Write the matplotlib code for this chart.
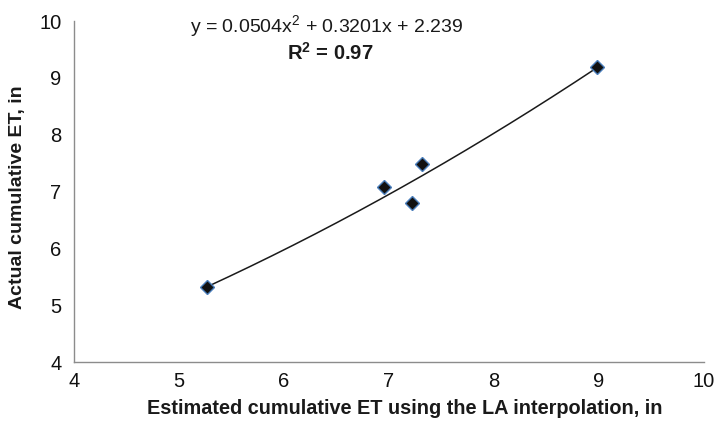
import numpy as np
import matplotlib
matplotlib.use("Agg")
import matplotlib.pyplot as plt
from matplotlib import font_manager

plt.rcParams['font.family'] = ['Liberation Sans', 'DejaVu Sans']
plt.rcParams['mathtext.fontset'] = 'custom'
plt.rcParams['mathtext.rm'] = 'Liberation Sans'
plt.rcParams['mathtext.it'] = 'Liberation Sans'
plt.rcParams['mathtext.bf'] = 'Liberation Sans:bold'

names = {f.name for f in font_manager.fontManager.ttflist}
label_family = ['Liberation Sans Narrow'] if 'Liberation Sans Narrow' in names else ['Liberation Sans']
narrow = 'Liberation Sans Narrow' in names

x_est = [5.27, 6.95, 7.22, 7.31, 8.98]
y_act = [5.32, 7.08, 6.80, 7.48, 9.19]
coef = [0.0504, 0.3201, 2.239]
x_ticks = [4, 5, 6, 7, 8, 9, 10]
y_ticks = [4, 5, 6, 7, 8, 9, 10]

W, H = 718, 422
fig = plt.figure(figsize=(W / 100, H / 100), dpi=100)
ax = fig.add_axes([74 / W, 1 - 362 / H, 630 / W, 341 / H])

xf = np.linspace(min(x_est), max(x_est), 200)
yf = np.polyval(coef, xf)
ax.plot(xf, yf, color='#1a1a1a', lw=1.1, zorder=2)
ax.plot(x_est, y_act, linestyle='none', marker='D', markersize=7,
        markerfacecolor='#111111', markeredgecolor='#4a7ebb', markeredgewidth=1.0, zorder=3)

ax.set_xlim(4, 10)
ax.set_ylim(4, 10)
ax.set_xticks(x_ticks)
ax.set_yticks(y_ticks)
ax.tick_params(length=0, labelsize=14.5, colors='#111111')
ax.tick_params(axis='x', pad=7)
ax.tick_params(axis='y', pad=9)
for s in ['top', 'right']:
    ax.spines[s].set_visible(False)
for s in ['left', 'bottom']:
    ax.spines[s].set_color('#8c8c8c')
    ax.spines[s].set_linewidth(1.0)

xs = 17.5 if narrow else 14.3
ys = 17 if narrow else 14
fig.text(405 / W, 1 - 408 / H, 'Estimated cumulative ET using the LA interpolation, in',
         ha='center', va='center', fontsize=xs, fontweight='bold', family=label_family, color='#1a1a1a')
fig.text(18 / W, 1 - 197 / H, 'Actual cumulative ET, in', rotation=90,
         ha='center', va='center', fontsize=ys, fontweight='bold', family=label_family, color='#1a1a1a')

fig.text(327 / W, 1 - 32 / H, r'y = 0.0504x$^{2}$ + 0.3201x + 2.239', ha='center', va='baseline',
         fontsize=14, color='#1a1a1a')
fig.text(330 / W, 1 - 60 / H, r'R$^{\mathbf{2}}$ = 0.97', ha='center', va='baseline',
         fontsize=14.5, fontweight='bold', color='#1a1a1a')

fig.savefig('out.png', dpi=100)
